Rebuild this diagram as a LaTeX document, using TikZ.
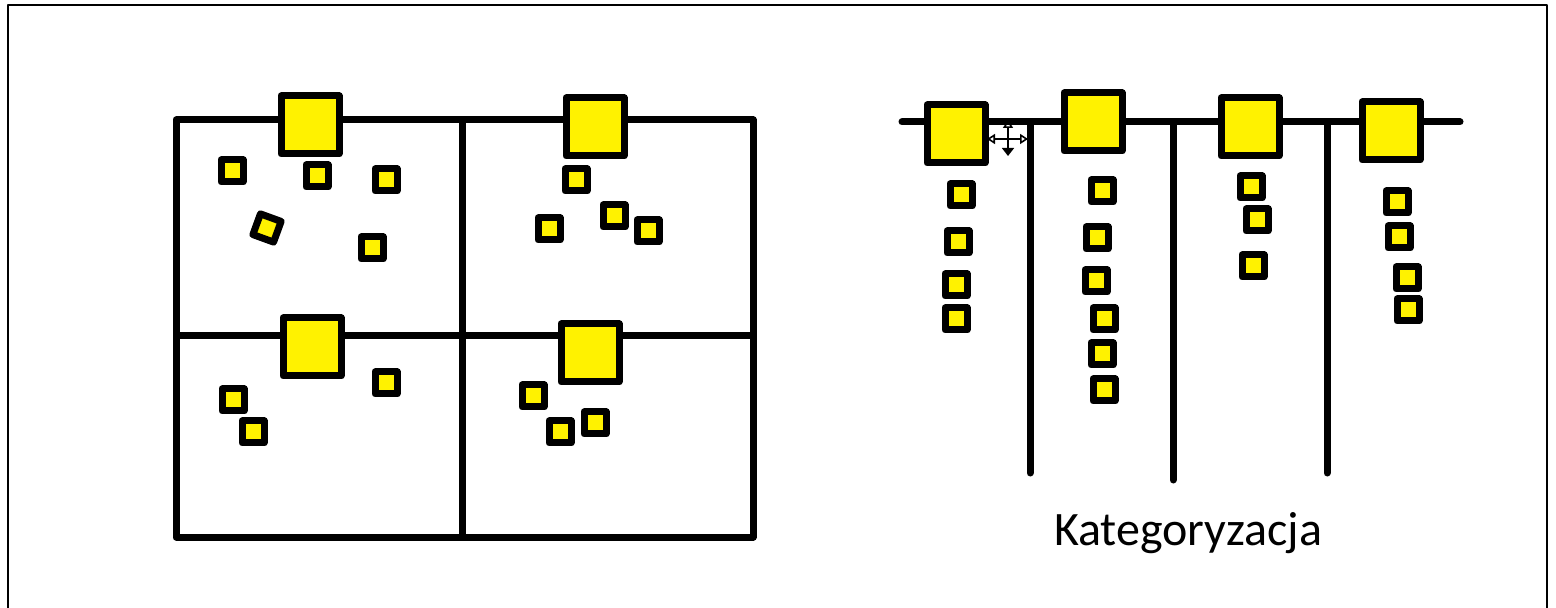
\documentclass[tikz,border=0pt]{standalone}
\usepackage{fontspec}
\usepackage{tikz}
\usepackage{xcolor}
\usetikzlibrary{arrows.meta}
\newfontfamily\labelfont{Carlito}

\tikzset{
  bigcard/.style={draw=black, fill=yellow, line width=3.5pt, minimum size=29pt, inner sep=0pt},
  smallcard/.style={draw=black, fill=yellow, line width=3.5pt, minimum size=11pt, inner sep=0pt},
  bar/.style={line width=3.5pt},
}

\begin{document}
\begin{tikzpicture}[x=0.5pt, y=-0.5pt, line cap=round, line join=round]
\useasboundingbox (0,0) rectangle (1556,608);
\draw[line width=1pt] (8,620) -- (8,5) -- (1547,5) -- (1547,620);

% grid of four cells
\draw[bar, line cap=butt] (176,120) rectangle (753,537);
\draw[bar, line cap=butt] (462,120) -- (462,537);
\draw[bar, line cap=butt] (176,336) -- (753,336);

\node[bigcard] (g1) at (310,125) {};
\node[bigcard] (g2) at (595,127) {};
\node[bigcard] (g3) at (312,347) {};
\node[bigcard] (g4) at (590,353) {};

\node[smallcard] (g1a) at (232,171) {};
\node[smallcard] (g1b) at (317,176) {};
\node[smallcard] (g1c) at (386,180) {};
\node[smallcard, rotate=-20] (g1d) at (267,228) {};
\node[smallcard] (g1e) at (372,248) {};

\node[smallcard] (g2a) at (576,180) {};
\node[smallcard] (g2b) at (614,216) {};
\node[smallcard] (g2c) at (549,229) {};
\node[smallcard] (g2d) at (648,231) {};

\node[smallcard] (g3a) at (233,400) {};
\node[smallcard] (g3b) at (253,432) {};
\node[smallcard] (g3c) at (386,383) {};

\node[smallcard] (g4a) at (533,396) {};
\node[smallcard] (g4b) at (560,432) {};
\node[smallcard] (g4c) at (595,423) {};

% categories
\coordinate (top-l) at (902,122);
\coordinate (top-r) at (1460,122);
\draw[bar] (top-l) -- (top-r);
\draw[bar] (1030,122) -- (1030,473);
\draw[bar] (1173,122) -- (1173,480);
\draw[bar] (1327,122) -- (1327,473);

\node[bigcard] (k1) at (956,134) {};
\node[bigcard] (k2) at (1093,122) {};
\node[bigcard] (k3) at (1250,127) {};
\node[bigcard] (k4) at (1391,131) {};

\node[smallcard] (k1a) at (961,195) {};
\node[smallcard] (k1b) at (958,242) {};
\node[smallcard] (k1c) at (956,285) {};
\node[smallcard] (k1d) at (956,319) {};

\node[smallcard] (k2a) at (1102,191) {};
\node[smallcard] (k2b) at (1097,238) {};
\node[smallcard] (k2c) at (1096,281) {};
\node[smallcard] (k2d) at (1104,319) {};
\node[smallcard] (k2e) at (1102,354) {};
\node[smallcard] (k2f) at (1104,390) {};

\node[smallcard] (k3a) at (1251,187) {};
\node[smallcard] (k3b) at (1257,220) {};
\node[smallcard] (k3c) at (1253,266) {};

\node[smallcard] (k4a) at (1397,202) {};
\node[smallcard] (k4b) at (1399,237) {};
\node[smallcard] (k4c) at (1407,278) {};
\node[smallcard] (k4d) at (1408,310) {};

% move cursor
\coordinate (cur) at (1008,139);
\draw[line width=0.8pt, {Triangle[open,length=4pt,width=5pt]}-{Triangle[open,length=4pt,width=5pt]}] ([xshift=-10.5pt]cur) -- ([xshift=10pt]cur);
\draw[line width=0.8pt, {Triangle[open,length=4pt,width=5pt]}-{Triangle[length=4pt,width=6pt]}] ([yshift=9.5pt]cur) -- ([yshift=-8.5pt]cur);

\node[anchor=base, inner sep=0pt, font=\labelfont\fontsize{24}{29}\selectfont] (title) at (1188,545) {Kategoryzacja};
\end{tikzpicture}
\end{document}
